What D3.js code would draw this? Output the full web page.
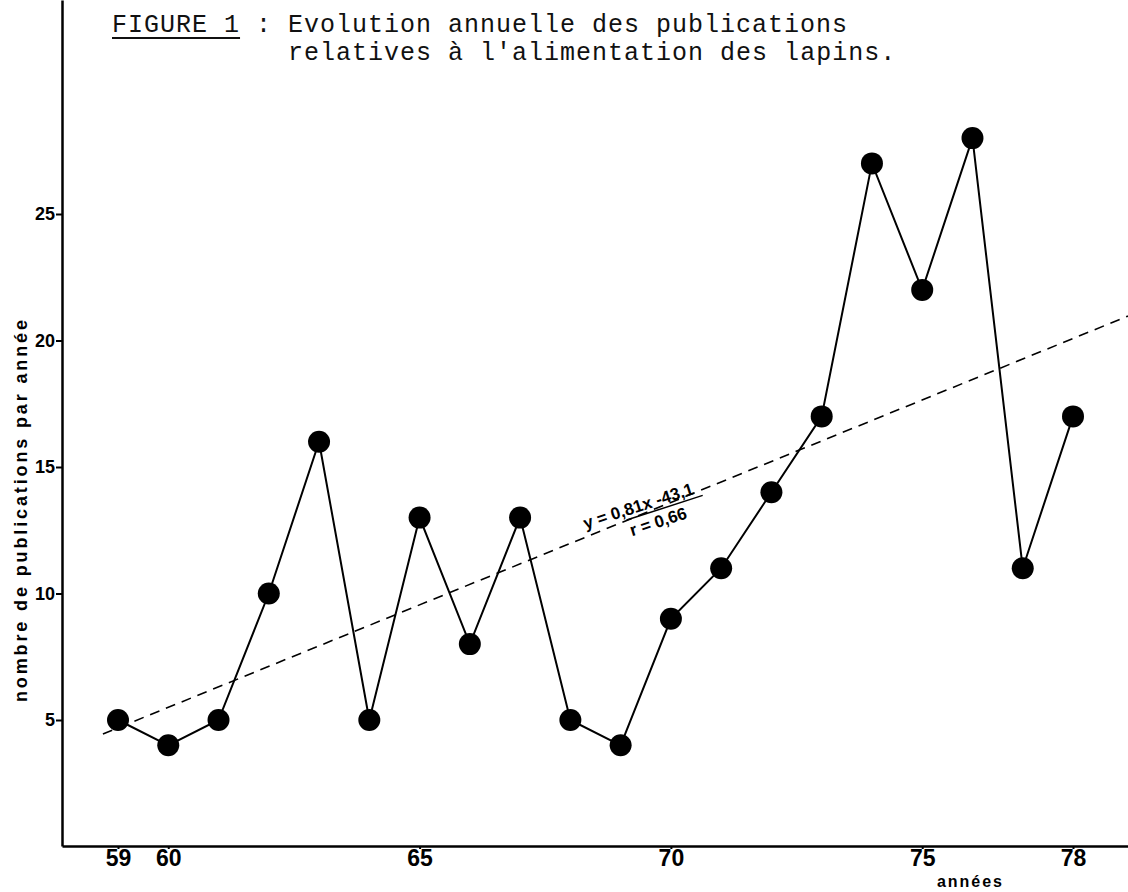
<!DOCTYPE html>
<html>
<head>
<meta charset="utf-8">
<script src="https://cdn.jsdelivr.net/npm/d3@7/dist/d3.min.js"></script>
<style>
  body { margin: 0; background: #fff; }
  .tick-y text { font-family: "Liberation Sans", Arial, sans-serif; font-weight: bold; font-size: 18px; }
  .tick-x text { font-family: "Liberation Sans Narrow", "Liberation Sans", sans-serif; font-stretch: condensed; font-weight: bold; font-size: 23px; }
  .lbl { font-family: "Liberation Sans", Arial, sans-serif; font-weight: bold; fill: #000; }
  .title { font-family: "Liberation Mono", "Courier New", monospace; font-size: 25px; letter-spacing: 1px; fill: #111; }
</style>
</head>
<body>
<div class="chart"></div>
<script>
// data
const years = [59, 60, 61, 62, 63, 64, 65, 66, 67, 68, 69, 70, 71, 72, 73, 74, 75, 76, 77, 78];
const publications = [5, 4, 5, 10, 16, 5, 13, 8, 13, 5, 4, 9, 11, 14, 17, 27, 22, 28, 11, 17];

const yTicks = [5, 10, 15, 20, 25];
const xTicks = [59, 60, 65, 70, 75, 78];

// regression printed on the figure: y = 0,81x - 43,1 ; r = 0,66
const regSlope = 0.81;
const regIntercept = -43.1;
const regExtent = [58.7, 79.2];
const regLabel = ["y = 0,81x  -43,1", "r = 0,66"];

const titleLine1 = ["FIGURE 1", " : Evolution annuelle des publications"];
const titleLine2 = "relatives à l'alimentation des lapins.";

const W = 1128, H = 892;
const margin = {left: 62, bottom: 846};

const svg = d3.select(".chart")
  .append("svg")
    .attr("width", W)
    .attr("height", H);

// x: years, the axis runs out to the right edge
const x = d3.scaleLinear().domain([59, 78]).range([118, 1073]);
x.domain([x.invert(margin.left), x.invert(W)]).range([margin.left, W]);

// y: count, the axis runs up to the top edge
const y = d3.scaleLinear().domain([5, 25]).range([720, 214]);
y.domain([y.invert(margin.bottom), y.invert(0)]).range([margin.bottom, 0]);

// axes
const gx = svg.append("g")
    .attr("class", "tick-x")
    .attr("transform", `translate(0,${margin.bottom})`)
    .call(d3.axisBottom(x).tickValues(xTicks).tickFormat(d => d).tickSize(3).tickSizeOuter(0).tickPadding(1));
gx.select(".domain").attr("stroke-width", 2.5);
gx.selectAll(".tick line").attr("stroke-width", 2);

const gy = svg.append("g")
    .attr("class", "tick-y")
    .attr("transform", `translate(${margin.left},0)`)
    .call(d3.axisLeft(y).tickValues(yTicks).tickSize(6).tickSizeOuter(0).tickPadding(1));
gy.select(".domain").attr("stroke-width", 2.5);
gy.selectAll(".tick line").attr("stroke-width", 2);

// axis titles
svg.append("text")
    .attr("class", "lbl")
    .attr("transform", "translate(27,511) rotate(-90)")
    .attr("text-anchor", "middle")
    .attr("font-size", 18)
    .attr("textLength", 382)
    .attr("lengthAdjust", "spacing")
    .text("nombre de publications par année");

svg.append("text")
    .attr("class", "lbl")
    .attr("x", 937)
    .attr("y", 887)
    .attr("font-size", 16)
    .attr("textLength", 65)
    .attr("lengthAdjust", "spacing")
    .text("années");

// regression line (dashed)
const reg = t => regSlope * t + regIntercept;
svg.append("path")
    .datum(regExtent)
    .attr("fill", "none")
    .attr("stroke", "#000")
    .attr("stroke-width", 1.6)
    .attr("stroke-dasharray", "10,7")
    .attr("d", d3.line().x(d => x(d)).y(d => y(reg(d))));

// regression label, following the line
const labelYear = 68.3;
const angle = -18;
const gl = svg.append("g")
    .attr("transform", `translate(${x(labelYear)},${y(reg(labelYear)) - 8}) rotate(${angle})`);
gl.append("text")
    .attr("class", "lbl")
    .attr("font-size", 17)
    .text(regLabel[0]);
gl.append("line")
    .attr("x1", 42).attr("x2", 122)
    .attr("y1", 4).attr("y2", 4)
    .attr("stroke", "#000").attr("stroke-width", 1.5);
gl.append("text")
    .attr("class", "lbl")
    .attr("x", 42)
    .attr("y", 21)
    .attr("font-size", 17)
    .text(regLabel[1]);

// yearly series
svg.append("path")
    .datum(publications)
    .attr("fill", "none")
    .attr("stroke", "#000")
    .attr("stroke-width", 2)
    .attr("d", d3.line().x((d, i) => x(years[i])).y(d => y(d)));

svg.append("g")
  .selectAll("circle")
  .data(publications)
  .join("circle")
    .attr("cx", (d, i) => x(years[i]))
    .attr("cy", d => y(d))
    .attr("r", 11)
    .attr("fill", "#000");

// title
const t1 = svg.append("text")
    .attr("class", "title")
    .attr("x", 112)
    .attr("y", 32);
t1.append("tspan").text(titleLine1[0]);
t1.append("tspan").text(titleLine1[1]);

const figW = t1.node().getSubStringLength(0, titleLine1[0].length);
svg.append("line")
    .attr("x1", 112).attr("x2", 112 + figW)
    .attr("y1", 38).attr("y2", 38)
    .attr("stroke", "#111").attr("stroke-width", 2);

svg.append("text")
    .attr("class", "title")
    .attr("x", 112 + t1.node().getSubStringLength(0, 11))
    .attr("y", 60)
    .text(titleLine2);
</script>
</body>
</html>
